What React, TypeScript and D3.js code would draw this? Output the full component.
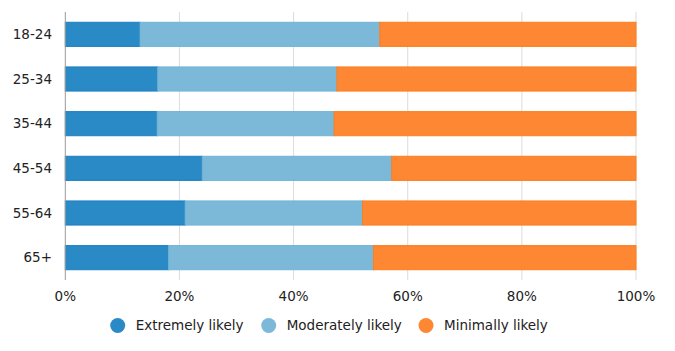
import React from "react";
import * as d3 from "d3";

const ageGroups = ["18-24", "25-34", "35-44", "45-54", "55-64", "65+"];
const extremely = [13.1, 16.2, 16.1, 24.0, 21.0, 18.1];
const moderately = [42.0, 31.4, 31.0, 33.2, 31.1, 35.9];
const minimally = [44.9, 52.4, 52.9, 42.8, 47.9, 46.0];
const seriesNames = ["Extremely likely", "Moderately likely", "Minimally likely"];
const xTicks = [0, 20, 40, 60, 80, 100];

const fills = ["#2a8ac6", "#7cb9d9", "#fd8733"];
const strokes = ["#1a7fc0", "#70b2d6", "#fd7e1e"];

const width = 675;
const height = 351;
const margin = { top: 12, right: 39, bottom: 71, left: 65.3 };
const font = "'DejaVu Sans', Verdana, sans-serif";
const fontSize = 13.5;

export default function App() {
  const x = d3
    .scaleLinear()
    .domain([0, 100])
    .range([margin.left, width - margin.right]);
  const y = d3
    .scaleBand()
    .domain(ageGroups)
    .range([margin.top, height - margin.bottom])
    .paddingInner(0.46)
    .paddingOuter(0.23);

  const table = ageGroups.map((g, i) => {
    const vals = [extremely[i], moderately[i], minimally[i]];
    const o: any = { g };
    seriesNames.forEach((s, j) => (o[s] = vals[j]));
    return o;
  });
  const stacked = d3.stack().keys(seriesNames)(table);

  const legendX = [117.7, 268.7, 426];

  return (
    <svg width={width} height={height} style={{ display: "block", margin: -8 }}>
      {xTicks.slice(1).map((t) => (
        <line
          key={t}
          x1={x(t)}
          x2={x(t)}
          y1={margin.top}
          y2={height - margin.bottom}
          stroke="#dcdcdc"
          strokeWidth={1}
        />
      ))}
      {stacked.map((layer, j) => (
        <g key={layer.key}>
          {layer.map((d, i) => (
            <rect
              key={i}
              x={x(d[0])}
              y={y(ageGroups[i])}
              width={x(d[1]) - x(d[0])}
              height={y.bandwidth()}
              fill={fills[j]}
              stroke={strokes[j]}
              strokeWidth={1}
            />
          ))}
        </g>
      ))}
      <line
        x1={x(0)}
        x2={x(0)}
        y1={margin.top}
        y2={height - margin.bottom}
        stroke="#999"
        strokeWidth={1}
      />
      {ageGroups.map((g) => (
        <text
          key={g}
          x={52}
          y={(y(g) as number) + y.bandwidth() / 2}
          dy="0.35em"
          textAnchor="end"
          fontFamily={font}
          fontSize={fontSize}
          fill="#222"
        >
          {g}
        </text>
      ))}
      {xTicks.map((t) => (
        <text
          key={t}
          x={x(t)}
          y={301}
          textAnchor="middle"
          fontFamily={font}
          fontSize={fontSize}
          fill="#222"
        >
          {t + "%"}
        </text>
      ))}
      {seriesNames.map((s, j) => (
        <g key={s}>
          <circle cx={legendX[j]} cy={325.5} r={7.5} fill={fills[j]} />
          <text
            x={legendX[j] + 18}
            y={325.5}
            dy="0.35em"
            fontFamily={font}
            fontSize={fontSize}
            fill="#222"
          >
            {s}
          </text>
        </g>
      ))}
    </svg>
  );
}
